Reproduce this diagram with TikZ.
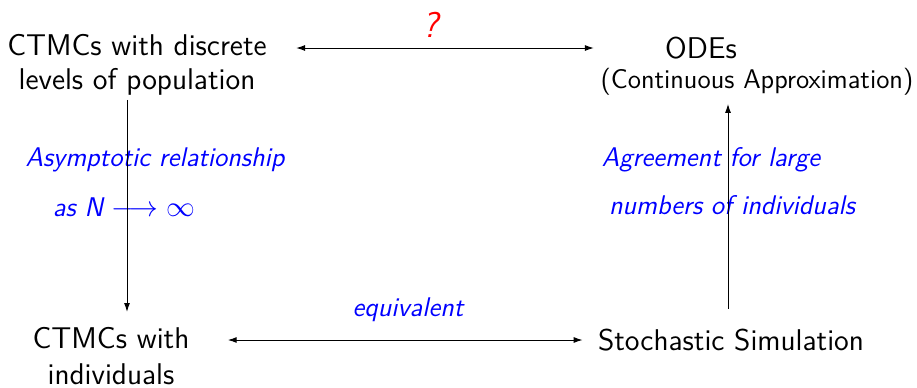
\documentclass[tikz,border=0pt]{standalone}
\usepackage{fontspec}
\usetikzlibrary{arrows.meta}
\begin{document}
\begin{tikzpicture}[x=0.5pt,y=-0.5pt,
  every node/.style={inner sep=0pt,font=\sffamily\fontsize{15}{17}\selectfont},
  lbl/.style={text=blue,font=\sffamily\itshape\fontsize{13.5}{15}\selectfont},
  conn/.style={line width=0.5pt,{Latex[length=4.5pt,width=3pt]}-{Latex[length=4.5pt,width=3pt]}},
  uni/.style={line width=0.5pt,-{Latex[length=4.5pt,width=3pt]}}]
\useasboundingbox (0,0) rectangle (917,387);
\node[align=center] (A) at (137,65) {CTMCs with discrete\\levels of population};
\node (B) at (701,48) {ODEs};
\node[font=\sffamily\fontsize{13.5}{15}\selectfont] (C) at (757,82) {(Continuous Approximation)};
\node[align=center,font=\sffamily\fontsize{15}{18}\selectfont] (D) at (111,356) {CTMCs with\\individuals};
\node (E) at (731,340) {Stochastic Simulation};
\node[text=red,font=\sffamily\itshape\fontsize{18}{20}\selectfont] (Q) at (430,25) {?};
\node[lbl] (L1) at (155,160) {Asymptotic relationship};
\node[lbl] (L2) at (124,207) {as N $\longrightarrow \infty$};
\node[lbl] (R1) at (711,160) {Agreement for large};
\node[lbl] (R2) at (732,205) {numbers of individuals};
\node[lbl] (EQ) at (408,310) {equivalent};
\draw[conn,shorten <=14.5pt,shorten >=35.5pt] (A.east |- B.center) -- (B.west);
\draw[conn,shorten <=19pt,shorten >=7.5pt] (D.east |- E.center) -- (E.west);
\draw[uni] ([xshift=-5pt,yshift=-2pt]A.south) -- ([xshift=-5pt]A.south |- 0,312);
\draw[uni] ([xshift=-1.5pt,yshift=10pt]E.north) -- ([xshift=-1.5pt,yshift=-4pt]E.north |- C.south);
\end{tikzpicture}
\end{document}
